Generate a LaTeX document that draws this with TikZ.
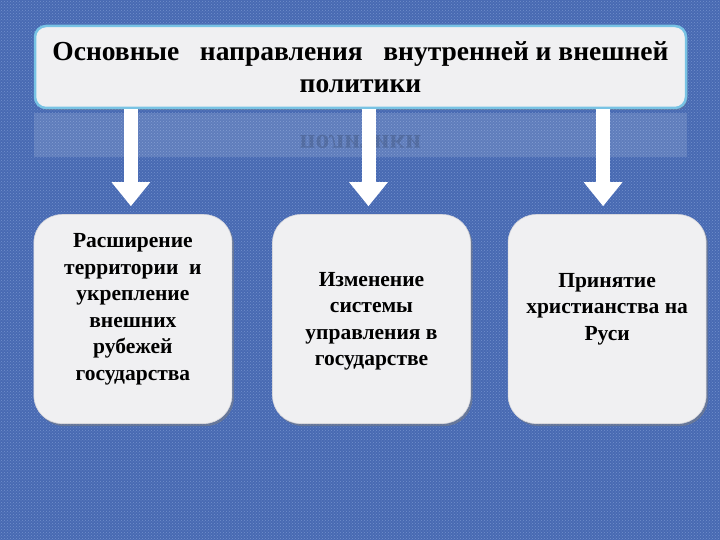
\documentclass[tikz,border=0pt]{standalone}
\usepackage{fontspec}
\setmainfont{Liberation Serif}
\usepackage{tikz}
\usetikzlibrary{arrows.meta, positioning, shadows, patterns}
\definecolor{denimblue}{RGB}{72,106,178}
\definecolor{denimlight}{RGB}{165,190,235}
\definecolor{boxgray}{RGB}{240,240,242}
\definecolor{boxedge}{RGB}{215,215,220}
\definecolor{glowcyan}{RGB}{120,195,228}

\begin{document}
\begin{tikzpicture}[
  node distance=105pt and 40pt,
  headbox/.style={draw=glowcyan, line width=2.5pt, fill=boxgray, rounded corners=11pt,
                  minimum width=651pt, minimum height=82pt, align=center,
                  font=\fontsize{27.5}{32}\selectfont\bfseries,
                  drop shadow={opacity=0.35, shadow xshift=1.5pt, shadow yshift=-2pt}},
  item/.style={draw=boxedge, line width=0.6pt, fill=boxgray, rounded corners=28pt,
               minimum width=198pt, minimum height=209pt,
               drop shadow={opacity=0.5, shadow xshift=2pt, shadow yshift=-2.5pt}},
  itemtext/.style={align=center, font=\fontsize{21.5}{26.5}\selectfont\bfseries},
  flow/.style={white, line width=14pt, shorten >=8pt,
               -{Triangle[width=37pt, length=24pt]}},
]

%% background
\fill[denimblue] (0,0) rectangle (720pt,540pt);
\fill[pattern=crosshatch dots, pattern color=denimlight, opacity=0.45] (0,0) rectangle (720pt,540pt);
\useasboundingbox (0,0) rectangle (720pt,540pt);

\node[headbox] (title) at (360.5pt,473pt)
  {Основные \ \ направления \ \ внутренней и внешней\\политики};

%% faint reflection of the title
\fill[white, opacity=0.13] ([yshift=-4pt]title.south west) rectangle ([yshift=-48pt]title.south east);
\node[font=\fontsize{27.5}{32}\selectfont\bfseries, text=black, opacity=0.15, yscale=-1]
  (mirror) at ([yshift=-33pt]title.south) {политики};

%% three directions
\node[item, below=105pt of title.south, xshift=11pt, anchor=north] (b2) {};
\node[item, left=40pt of b2] (b1) {};
\node[item, right=37pt of b2] (b3) {};

\node[itemtext] (t1) at ([yshift=10pt]b1.center)
  {Расширение\\территории \ и\\укрепление\\внешних\\рубежей\\государства};
\node[itemtext] (t2) at ([yshift=-2pt]b2.center)
  {Изменение\\системы\\управления в\\государстве};
\node[itemtext] (t3) at ([yshift=10pt]b3.center)
  {Принятие\\христианства на\\Руси};

%% arrows
\draw[flow] ([xshift=-2pt]title.south -| b1.north) -- ([xshift=-2pt]b1.north);
\draw[flow] ([xshift=-3pt]title.south -| b2.north) -- ([xshift=-3pt]b2.north);
\draw[flow] ([xshift=-4pt]title.south -| b3.north) -- ([xshift=-4pt]b3.north);

\end{tikzpicture}
\end{document}
